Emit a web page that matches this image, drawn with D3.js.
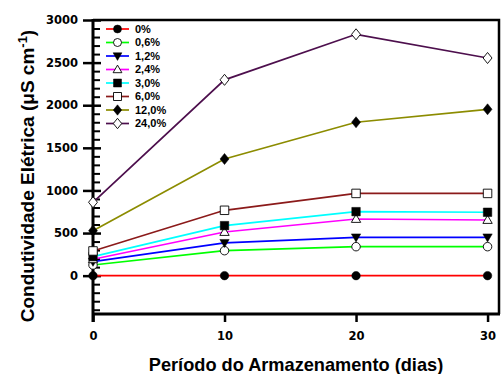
<!DOCTYPE html>
<html>
<head>
<meta charset="utf-8">
<script src="https://cdn.jsdelivr.net/npm/d3@7"></script>
<style>
  html, body { margin: 0; padding: 0; background: #fff; }
  svg { display: block; font-family: Arial, "Liberation Sans", sans-serif; }
</style>
</head>
<body>
<svg id="chart" width="501" height="374"></svg>
<script>
// Storage period (days)
const days = [0, 10, 20, 30];

// Series labels (concentration)
const seriesNames = ["0%", "0,6%", "1,2%", "2,4%", "3,0%", "6,0%", "12,0%", "24,0%"];

// Electrical conductivity (µS cm-1) per series, at each storage period
const s0   = [0, 0, 0, 0];
const s06  = [125, 293, 340, 340];
const s12  = [164, 385, 450, 450];
const s24  = [192, 512, 665, 653];
const s30  = [223, 587, 751, 744];
const s60  = [290, 767, 965, 965];
const s120 = [528, 1369, 1800, 1952];
const s240 = [861, 2298, 2832, 2554];

const seriesValues = [s0, s06, s12, s24, s30, s60, s120, s240];
const seriesColors = ["#ff0000", "#00ff00", "#0000ff", "#ff00ff", "#00ffff", "#8b1a1a", "#8c8c00", "#4d0f4d"];
// marker: symbol type + filled?
const seriesMarkers = [
  { type: "circle", fill: true },
  { type: "circle", fill: false },
  { type: "triDown", fill: true },
  { type: "triUp", fill: false },
  { type: "square", fill: true },
  { type: "square", fill: false },
  { type: "diamond", fill: true },
  { type: "diamond", fill: false }
];

// Axis ticks
const yMajorTicks = [0, 500, 1000, 1500, 2000, 2500, 3000];
const xTicks = [0, 10, 20, 30];

const tickFont = "'DejaVu Sans', sans-serif";
const svg = d3.select("#chart");
const pLeft = 93, pRight = 499, pTop = 20, pBottom = 314;

const x = d3.scaleLinear().domain([0, 30.87]).range([pLeft, pRight]);
const y = d3.scaleLinear().domain([-450, 3000]).range([pBottom, pTop]);

// Frame (top and right)
svg.append("path")
  .attr("d", `M${pLeft},${pTop}H${pRight}V${pBottom}`)
  .attr("fill", "none").attr("stroke", "#000").attr("stroke-width", 2.5);

// Y axis: minor ticks inside, major ticks crossing
const yMinor = d3.range(-400, 3001, 100).filter(v => v % 500 !== 0);
const yAxisMinor = d3.axisRight(y).tickValues(yMinor).tickSize(7).tickFormat("");
const gMinor = svg.append("g").attr("transform", `translate(${pLeft},0)`).call(yAxisMinor);
gMinor.select(".domain").remove();
gMinor.selectAll("line").attr("stroke-width", 2);

const yAxisMajor = d3.axisLeft(y).tickValues(yMajorTicks).tickSize(10).tickPadding(5).tickFormat(d3.format("d"));
const gMajor = svg.append("g").attr("transform", `translate(${pLeft},0)`).call(yAxisMajor);
gMajor.select(".domain").remove();
gMajor.selectAll("line").attr("x2", -10).attr("x1", 8).attr("stroke-width", 2.5);
gMajor.selectAll("text").attr("font-size", 11.5).attr("font-weight", "bold").attr("fill", "#000")
  .attr("font-family", tickFont);

// Y axis line (extends below the x axis)
svg.append("line").attr("x1", pLeft).attr("x2", pLeft).attr("y1", pTop - 1).attr("y2", pBottom + 8)
  .attr("stroke", "#000").attr("stroke-width", 3);

// X axis
const xAxis = d3.axisBottom(x).tickValues(xTicks).tickSize(8).tickPadding(10).tickFormat(d3.format("d"));
const gx = svg.append("g").attr("transform", `translate(0,${pBottom})`).call(xAxis);
gx.select(".domain").remove();
gx.selectAll("line").attr("stroke-width", 2.5);
gx.selectAll("text").attr("font-size", 11.5).attr("font-weight", "bold").attr("fill", "#000")
  .attr("font-family", tickFont);
svg.append("line").attr("x1", pLeft).attr("x2", pRight + 1).attr("y1", pBottom).attr("y2", pBottom)
  .attr("stroke", "#000").attr("stroke-width", 3);

// Marker path generator
function markerPath(type, s) {
  const h = s / 2;
  switch (type) {
    case "circle": return d3.symbol(d3.symbolCircle, Math.PI * h * h)();
    case "square": return `M${-h},${-h}H${h}V${h}H${-h}Z`;
    case "diamond": return `M0,${-h * 1.3}L${h * 1.05},0L0,${h * 1.3}L${-h * 1.05},0Z`;
    case "triUp": return `M0,${-h * 1.1}L${h * 1.1},${h * 0.8}L${-h * 1.1},${h * 0.8}Z`;
    case "triDown": return `M0,${h * 1.1}L${h * 1.1},${-h * 0.8}L${-h * 1.1},${-h * 0.8}Z`;
  }
}

const line = d3.line().x((d, i) => x(days[i])).y(d => y(d));

// Lines and markers
seriesValues.forEach((vals, k) => {
  const g = svg.append("g");
  g.append("path").datum(vals).attr("d", line)
    .attr("fill", "none").attr("stroke", seriesColors[k]).attr("stroke-width", 1.7);
  const m = seriesMarkers[k];
  g.selectAll("path.mk").data(vals).join("path").attr("class", "mk")
    .attr("transform", (d, i) => `translate(${x(days[i])},${y(d)})`)
    .attr("d", markerPath(m.type, 8.5))
    .attr("fill", m.fill ? "#000" : "#fff")
    .attr("stroke", "#000").attr("stroke-width", m.fill ? 0.5 : 0.9);
});

// Legend
const legY0 = 29, legDy = 13.5;
const leg = svg.append("g");
seriesNames.forEach((name, k) => {
  const yy = legY0 + k * legDy;
  leg.append("line").attr("x1", 106).attr("x2", 129).attr("y1", yy).attr("y2", yy)
    .attr("stroke", seriesColors[k]).attr("stroke-width", 1.7);
  const m = seriesMarkers[k];
  leg.append("path").attr("transform", `translate(117.5,${yy})`)
    .attr("d", markerPath(m.type, 8))
    .attr("fill", m.fill ? "#000" : "#fff")
    .attr("stroke", "#000").attr("stroke-width", m.fill ? 0.5 : 0.9);
  leg.append("text").attr("x", 135).attr("y", yy).attr("dy", "0.35em")
    .attr("font-size", 11).attr("font-weight", "bold").text(name);
});

// Axis titles
svg.append("text")
  .attr("transform", `translate(34,${176}) rotate(-90)`)
  .attr("text-anchor", "middle")
  .attr("font-size", 19).attr("font-weight", "bold")
  .call(t => {
    t.append("tspan").text("Condutividade Elétrica (\u03bcS cm");
    t.append("tspan").attr("dy", -7).attr("font-size", 13).text("-1");
    t.append("tspan").attr("dy", 7).text(")");
  });

svg.append("text")
  .attr("x", 296).attr("y", 371)
  .attr("text-anchor", "middle")
  .attr("font-size", 18.2).attr("font-weight", "bold")
  .text("Período do Armazenamento (dias)");
</script>
</body>
</html>
